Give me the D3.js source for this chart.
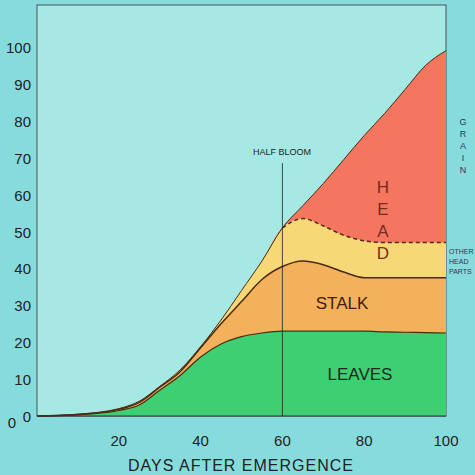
<!DOCTYPE html><html><head><script src="https://cdn.jsdelivr.net/npm/d3@7"></script>
<style>body{margin:0;background:#86dcdc}</style></head><body><svg id="c" width="475" height="475"></svg>
<script>
const days=[0,10,20,25,30,35,40,45,50,55,60,65,70,75,80,85,90,95,100];
const leaves=[0,0.3,1.5,3,7,11,16,19.5,21.5,22.5,23,23,23,23,23,22.8,22.7,22.6,22.5];
const stalk=[0,0.4,1.8,3.7,7.8,12,18.5,25,31,37,40.5,42,41,39,37.5,37.5,37.5,37.5,37.5];
const other=[0,0.5,2,4,8,12.5,18.8,26,34,42,51,53.5,51.5,49,47.5,47,47,47,47];
const total=[0,0.5,2,4,8,12.5,18.8,26,34,42,51,57,63,69.5,76,82,88.5,95,99];
const xTicks=[20,40,60,80,100];
const yTicks=[0,10,20,30,40,50,60,70,80,90,100];
const svg=d3.select("#c");
const x=d3.scaleLinear().domain([0,100]).range([37,446]);
const y=d3.scaleLinear().domain([0,100]).range([416,47]);
svg.append("rect").attr("x",37).attr("y",5).attr("width",409).attr("height",411).attr("fill","#a6e8e4").attr("stroke","#333").attr("stroke-width",0.8);
const area=(lo,hi,c)=>svg.append("path").datum(days.map((d,i)=>[d,lo?lo[i]:0,hi[i]]))
 .attr("fill",c).attr("d",d3.area().x(d=>x(d[0])).y0(d=>y(d[1])).y1(d=>y(d[2])).curve(d3.curveMonotoneX));
area(null,leaves,"#3ecf73");area(leaves,stalk,"#f4b15c");area(stalk,other,"#f7d876");area(other,total,"#f4765e");
const ln=(arr,dash,w)=>svg.append("path").datum(days.map((d,i)=>[d,arr[i]])).attr("fill","none").attr("stroke","#4a2a10").attr("stroke-width",w)
 .attr("d",d3.line().x(d=>x(d[0])).y(d=>y(d[1])).curve(d3.curveMonotoneX));
ln(leaves,null,1.2);ln(stalk,null,1.5);
svg.append("path").datum(days.map((d,i)=>[d,other[i]]).filter(d=>d[0]>=60)).attr("fill","none").attr("stroke","#5a2a10").attr("stroke-width",1.5).attr("stroke-dasharray","4,3")
 .attr("d",d3.line().x(d=>x(d[0])).y(d=>y(d[1])).curve(d3.curveMonotoneX));
ln(total,null,1);
svg.append("line").attr("x1",37).attr("x2",446).attr("y1",416).attr("y2",416).attr("stroke","#333");
svg.append("line").attr("x1",x(60)).attr("x2",x(60)).attr("y1",163).attr("y2",416).attr("stroke","#222").attr("stroke-width",0.8);
const t=(s,px,py,o={})=>svg.append("text").attr("x",px).attr("y",py).text(s).attr("font-family","Liberation Sans, Arial").attr("font-size",o.fs||14).attr("fill",o.c||"#222").attr("text-anchor",o.a||"middle").attr("letter-spacing",o.ls||0);
yTicks.forEach(v=>t(v,31,y(v)+6,{a:"end",fs:15}));
t("0",12,428,{fs:15});
xTicks.forEach(v=>t(v,x(v),446,{fs:15}));
t("DAYS AFTER EMERGENCE",241,471,{fs:16,ls:1});
t("HALF BLOOM",282,155,{fs:9});
t("STALK",342,309,{fs:17,c:"#3a2010"});
t("LEAVES",360,380,{fs:17,c:"#1a2a1a"});
["H","E","A","D"].forEach((c,i)=>t(c,383,193+i*22,{fs:17,c:"#7a2a20"}));
["G","R","A","I","N"].forEach((c,i)=>t(c,463,125+i*12,{fs:9,c:"#335"}));
["OTHER","HEAD","PARTS"].forEach((c,i)=>t(c,449,254+i*10,{fs:7,a:"start",c:"#335"}));
</script></body></html>
